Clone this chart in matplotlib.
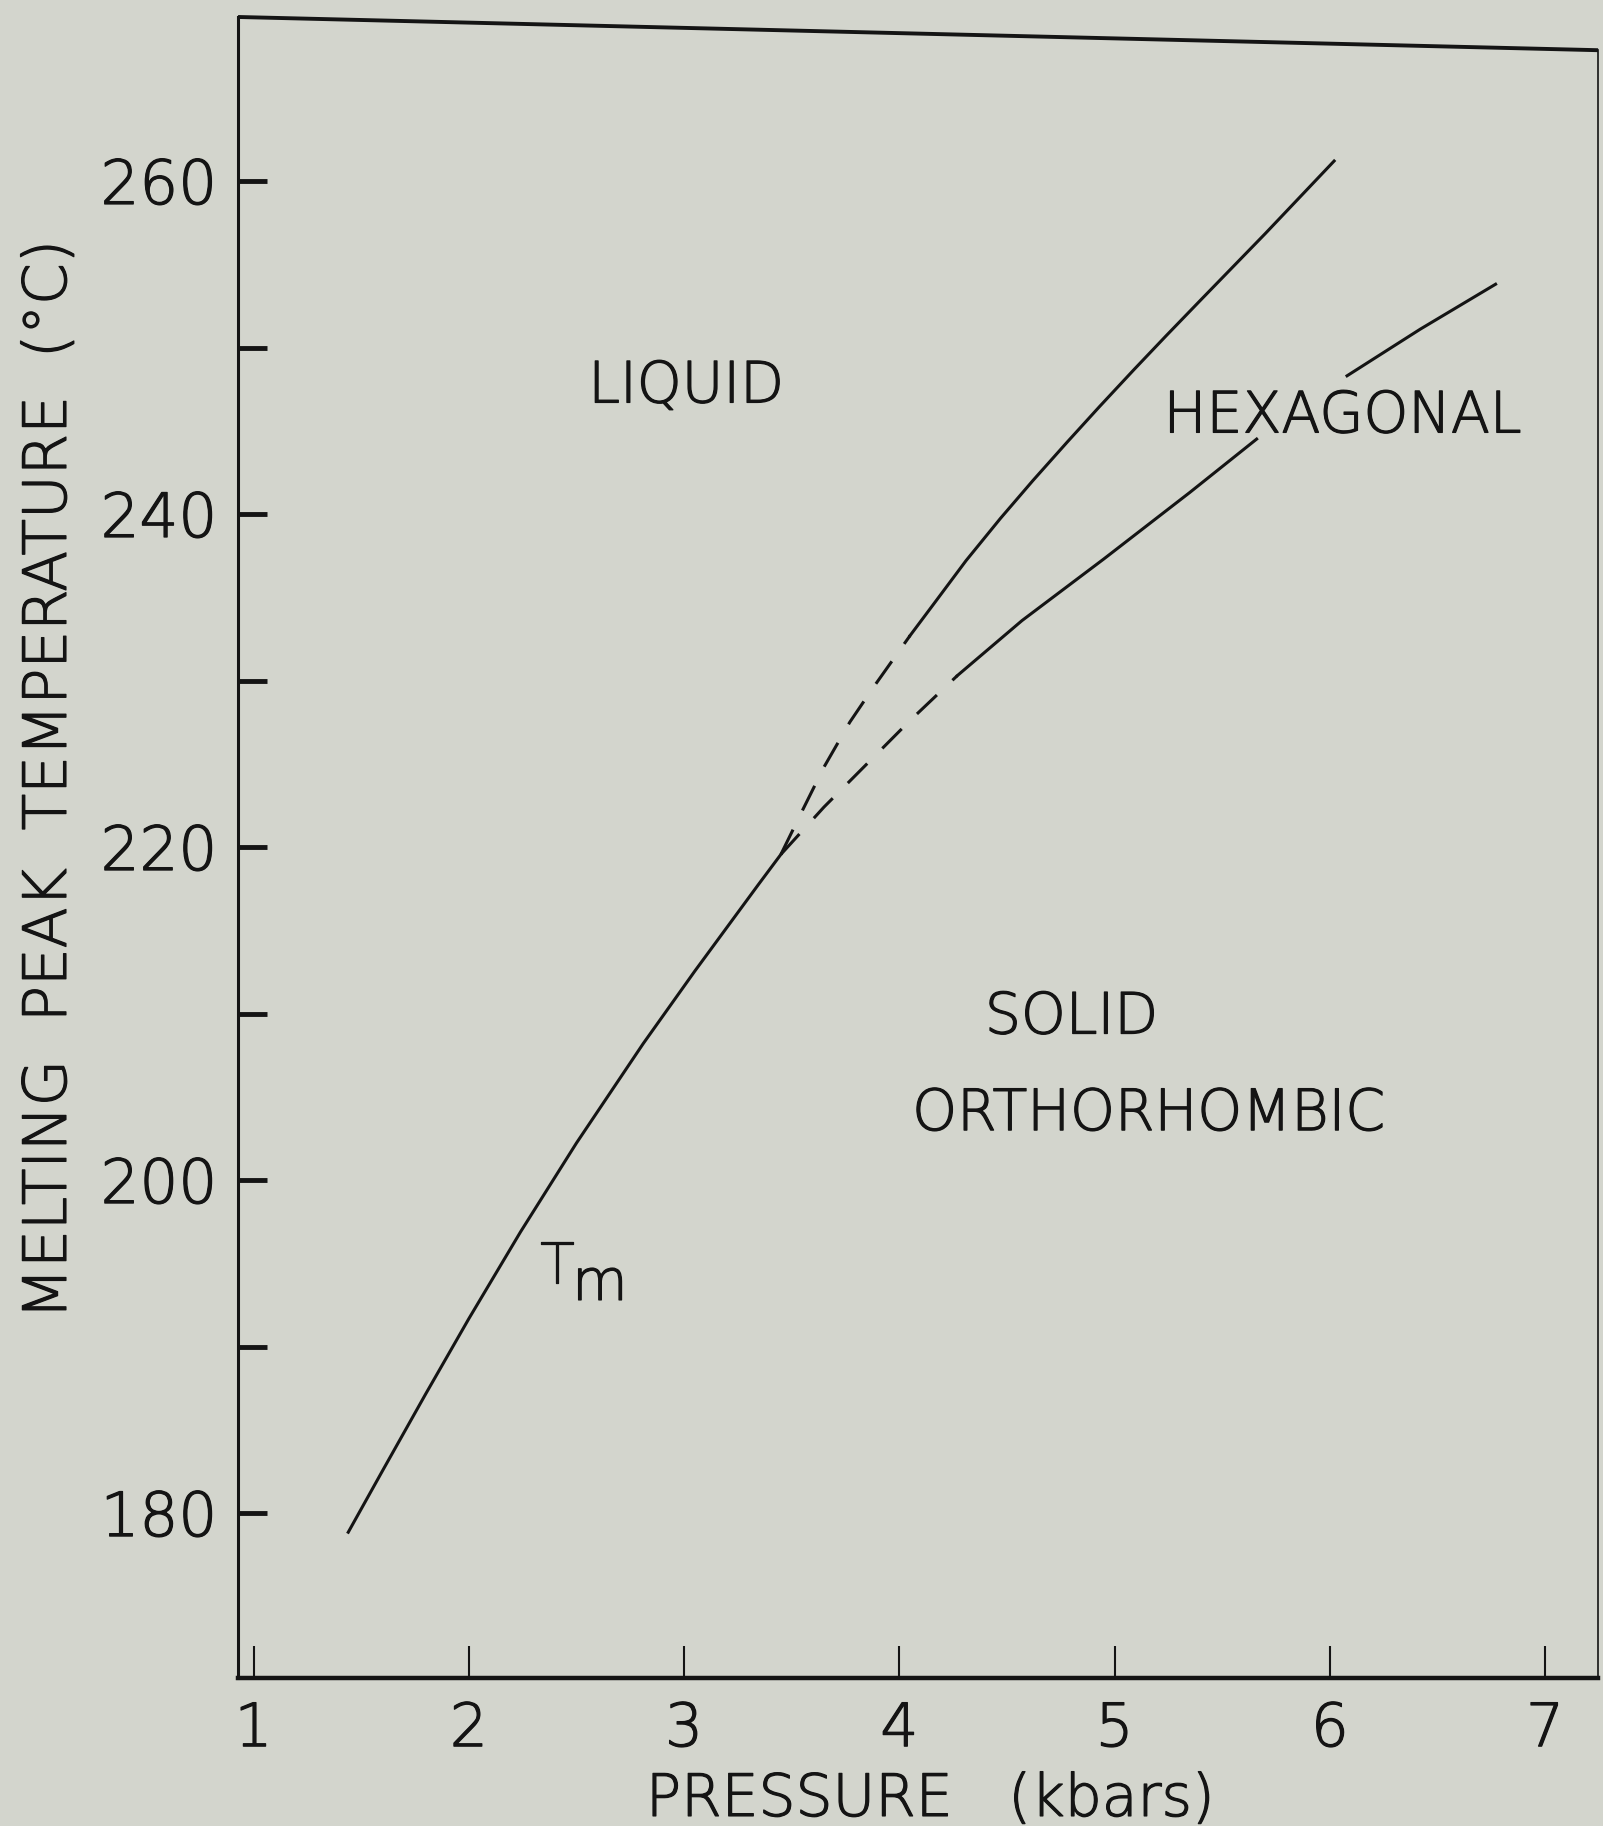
import matplotlib
matplotlib.use("Agg")
import matplotlib.pyplot as plt
import matplotlib.patheffects as pe

# melting curve below the triple point (kbar, deg C)
tm_p = [1.44, 1.60, 1.80, 2.00, 2.24, 2.50, 2.81, 3.05, 3.345, 3.45]
tm_t = [178.85, 182.56, 187.16, 191.67, 196.88, 202.22, 208.19, 212.55, 217.74, 219.56]

# liquid / hexagonal boundary
upper_dash_p = [3.45, 3.55, 3.65, 3.77, 3.88, 4.05]
upper_dash_t = [219.56, 222.2, 224.8, 227.5, 229.6, 232.7]
upper_p = [4.05, 4.16, 4.31, 4.47, 4.62, 4.78, 4.93, 5.09, 5.24, 5.40, 5.70, 6.02]
upper_t = [232.7, 234.6, 237.2, 239.74, 242.0, 244.32, 246.45, 248.67, 250.71,
           252.85, 256.84, 261.2]

# hexagonal / orthorhombic boundary
lower_dash_p = [3.45, 3.65, 3.85, 4.05, 4.27]
lower_dash_t = [219.56, 222.4, 225.0, 227.6, 230.3]
lower_p = [4.27, 4.57, 4.95, 5.35, 5.66]
lower_t = [230.3, 233.6, 237.3, 241.3, 244.5]
upper_end_p = [6.08, 6.42, 6.77]
upper_end_t = [248.3, 251.1, 253.8]

x_ticks = [1, 2, 3, 4, 5, 6, 7]
y_major = [180, 200, 220, 240, 260]
y_minor = [190, 210, 230, 250]

bg = "#d3d5cd"
ink = "#141414"
plt.rcParams["font.family"] = ["DejaVu Sans"]
plt.rcParams["font.weight"] = "light"
# thin pen-lettering look: light glyphs with a small outline
pen = [pe.withStroke(linewidth=0.9, foreground=ink)]

fig = plt.figure(figsize=(16.03, 18.26), dpi=100, facecolor=bg)
ax = fig.add_axes([0.1485, 0.0811, 0.8484, 0.9096], facecolor=bg)

lw = 2.2
ax.plot(tm_p, tm_t, color=ink, lw=lw)
ax.plot(upper_dash_p, upper_dash_t, color=ink, lw=lw, dashes=(9, 7))
ax.plot(upper_p, upper_t, color=ink, lw=lw)
ax.plot(lower_dash_p, lower_dash_t, color=ink, lw=lw, dashes=(9, 7))
ax.plot(lower_p, lower_t, color=ink, lw=lw)
ax.plot(upper_end_p, upper_end_t, color=ink, lw=lw)

ax.set_xlim(0.928, 7.246)
ax.set_ylim(170.1, 269.85)

# frame: the top edge runs slightly downhill
for s in ["top", "right"]:
    ax.spines[s].set_visible(False)
ax.spines["left"].set_linewidth(2.2)
ax.spines["bottom"].set_linewidth(3.2)
ax.plot([0, 1], [1, 0.98], transform=ax.transAxes, color=ink, lw=2.8,
        clip_on=False, solid_capstyle="butt")
ax.plot([1, 1], [0, 0.98], transform=ax.transAxes, color=ink, lw=1.2,
        clip_on=False)
for s in ax.spines.values():
    s.set_color(ink)

ax.set_xticks(x_ticks)
ax.set_yticks(y_major)
ax.set_yticks(y_minor, minor=True)
ax.tick_params(axis="x", direction="in", length=23, width=1.5, pad=16,
               labelsize=43, colors=ink)
ax.tick_params(axis="y", which="both", direction="in", length=21, width=3.5,
               pad=15, labelsize=44, colors=ink)
ax.tick_params(axis="y", which="minor", labelleft=False)
for lab in ax.get_xticklabels() + ax.get_yticklabels():
    lab.set_path_effects(pen)

ax.set_xlabel("PRESSURE   (kbars)", fontsize=42, color=ink,
              fontweight="light", path_effects=pen)
ax.xaxis.set_label_coords(0.509, -0.056)
ax.set_ylabel("MELTING  PEAK  TEMPERATURE  (°C)", fontsize=43, color=ink,
              fontweight="light", path_effects=pen)
ax.yaxis.set_label_coords(-0.117, 0.541)

fs = 41
labels = [
    (3.01, 246.7, "LIQUID", "center"),
    (6.06, 244.9, "HEXAGONAL", "center"),
    (4.80, 208.8, "SOLID", "center"),
    (5.16, 203.0, "ORTHORHOMBIC", "center"),
    (2.41, 193.8, "T", "center"),
    (2.48, 192.8, "m", "left"),
]
for x, y, s, ha in labels:
    ax.text(x, y, s, fontsize=fs, ha=ha, va="baseline", color=ink,
            path_effects=pen)

fig.savefig("out.png", dpi=100, facecolor=bg)
